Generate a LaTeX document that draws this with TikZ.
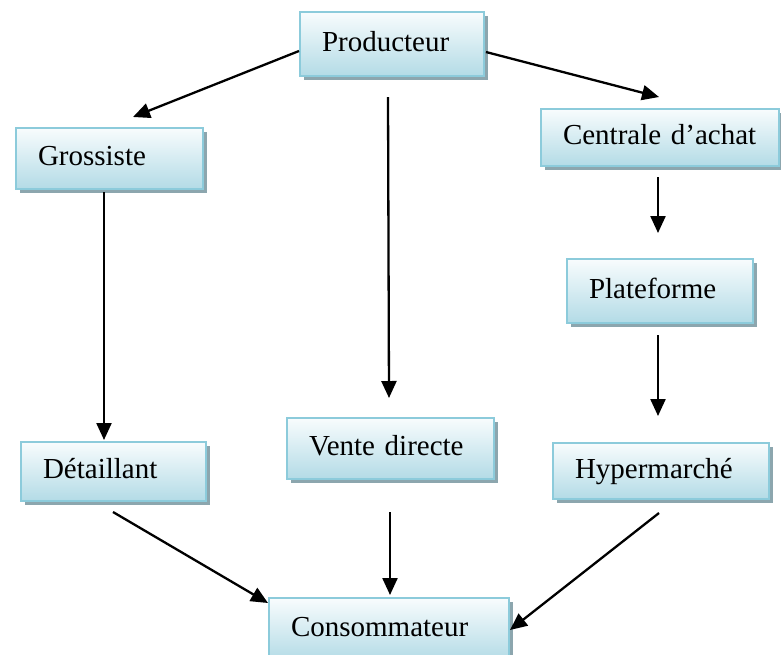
\documentclass[tikz,border=0pt]{standalone}
\usepackage{fontspec}
\setmainfont{Liberation Serif}
\usetikzlibrary{arrows.meta,shadows,calc}
\definecolor{boxline}{HTML}{8CCBDB}
\definecolor{boxtop}{HTML}{F8FCFD}
\definecolor{boxbottom}{HTML}{B3DBE6}
\definecolor{boxshadow}{HTML}{8CA6AE}
\tikzset{
  stage/.style n args={2}{
    draw=boxline, line width=2pt,
    top color=boxtop, bottom color=boxbottom,
    drop shadow={shadow xshift=3.5pt, shadow yshift=-3.5pt, fill=boxshadow, opacity=1},
    anchor=north west, inner xsep=22pt, inner ysep=0pt,
    text width=#1-44pt, minimum height=#2, align=left,
    text height=20pt, text depth=6pt,
    font=\fontsize{29}{34}\selectfont
  },
  flow/.style={line width=2.3pt, -{Triangle[length=17pt,width=15pt]}}
}
\begin{document}
\begin{tikzpicture}[x=1pt,y=-1pt]
  \useasboundingbox (0,0) rectangle (781,654);
  \clip (0,0) rectangle (781,654);
  % channel stages
  \node[stage={184pt}{64pt}] (prod)  at (299,11)  {Producteur};
  \node[stage={187pt}{61pt}] (gros)  at (15,127)  {Grossiste};
  \node[stage={238pt}{57pt}] (cent)  at (540,108) {Centrale d’achat};
  \node[stage={186pt}{64pt}] (plat)  at (566,258) {Plateforme};
  \node[stage={185pt}{59pt}] (det)   at (20,441)  {Détaillant};
  \node[stage={207pt}{61pt}] (vente) at (286,417) {Vente directe};
  \node[stage={216pt}{56pt}] (hyper) at (552,442) {Hypermarché};
  \node[stage={240pt}{63pt}] (cons)  at (268,597) {Consommateur};
  % flows between stages
  \draw[flow] ($(prod.north west)+(0,40)$) -- ($(gros.north west)+(118,-10)$);
  \draw[flow] ($(prod.north east)+(1,41)$) -- ($(cent.north west)+(119,-11)$);
  \draw[flow] ($(prod.south west)+(89,20)$) -- ($(vente.north west)+(103,-19)$);
  \draw[flow] ($(gros.south west)+(89,2)$) -- ($(det.north west)+(84,-1)$);
  \draw[flow] ($(cent.south west)+(118,10)$) -- ($(plat.north west)+(92,-25)$);
  \draw[flow] ($(plat.south west)+(92,11)$) -- ($(hyper.north west)+(106,-26)$);
  \draw[flow] ($(det.south west)+(93,10)$) -- ($(cons.north west)+(0,6)$);
  \draw[flow] ($(vente.south west)+(104,32)$) -- ($(cons.north west)+(122,-2)$);
  \draw[flow] ($(hyper.south west)+(107,13)$) -- ($(cons.north east)+(0,33)$);
\end{tikzpicture}
\end{document}
